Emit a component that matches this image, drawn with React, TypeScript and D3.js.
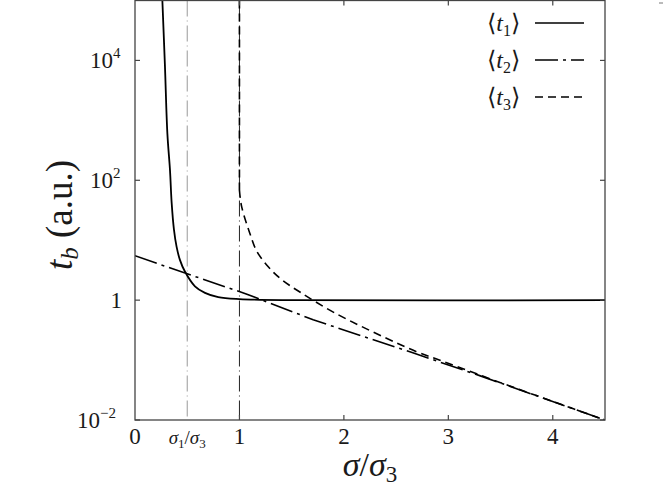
import React from 'react'
import * as d3 from 'd3'

// (x = sigma / sigma3, y = t_b in a.u.)
const t1X = [0.262, 0.287, 0.31, 0.335, 0.351, 0.373, 0.398, 0.43, 0.478, 0.574, 0.67, 0.797, 1.0, 1.5, 4.5]
const t1Y = [1e5, 7800, 600, 148, 42, 15, 7.8, 4.7, 3.0, 1.7, 1.32, 1.12, 1.04, 1.0, 1.0]

const t2X = [0, 0.5, 1.065, 1.706, 2.66, 3.3, 4.5]
const t2Y = [5.5, 2.75, 1.27, 0.47, 0.132, 0.055, 0.01]

// t3 jumps to infinity at sigma = sigma3
const t3VertX = [1.0, 1.0]
const t3VertY = [1e5, 69]
const t3X = [1.0, 1.02, 1.1, 1.165, 1.276, 1.404, 1.595, 1.914, 2.376, 2.695, 2.95, 3.5, 4.0, 4.5]
const t3Y = [69, 37, 13, 6.6, 3.6, 2.2, 1.31, 0.61, 0.245, 0.138, 0.095, 0.042, 0.0204, 0.01]

const xTicks = [1, 2, 3, 4]
const xTickLabels = ['0', '1', '2', '3', '4']
const xTickLabelPos = [0, 1, 2, 3, 4]
const yTicks = [1e4, 1e2, 1, 1e-2]
const yTickExp = ['4', '2', '', '\u22122']

const sigma1 = 0.5
const sigma3 = 1

const legendItems = [
    { sub: '1', dash: null },
    { sub: '2', dash: '23,5,3,5' },
    { sub: '3', dash: '8,5' }
]

const W = 664
const H = 486
const margin = { top: 0.5, right: 59, bottom: 66, left: 135 }
const font = 'Liberation Serif'
const ink = '#1a1a1a'

const zip = (xs: number[], ys: number[]) => xs.map((x, i) => [x, ys[i]] as [number, number])

export default function App() {
    const x = d3.scaleLinear().domain([0, 4.5]).range([margin.left, W - margin.right])
    const y = d3.scaleLog().domain([1e-2, 1e5]).range([H - margin.bottom, margin.top])

    const smooth = d3.line<[number, number]>()
        .x((d) => x(d[0]))
        .y((d) => y(d[1]))
        .curve(d3.curveCatmullRom.alpha(0.5))
    const straight = d3.line<[number, number]>()
        .x((d) => x(d[0]))
        .y((d) => y(d[1]))

    const [x0, x1] = x.range()
    const [yb, yt] = y.range()
    const tick = 5

    return (
        <svg width={W} height={H} fontFamily={font}
            style={{ position: 'absolute', left: 0, top: 0, background: '#fff' }}>
            <defs>
                <clipPath id="plot">
                    <rect x={x0} y={yt} width={x1 - x0} height={yb - yt} />
                </clipPath>
            </defs>

            {/* reference lines */}
            <line x1={x(sigma1)} x2={x(sigma1)} y1={yt} y2={yb} stroke="#999" strokeWidth={1}
                strokeDasharray="16,4,1,4" />
            <line x1={x(sigma3)} x2={x(sigma3)} y1={yt} y2={yb} stroke="#222" strokeWidth={1}
                strokeDasharray="16,4,1,4" />

            <g clipPath="url(#plot)" fill="none" stroke="#000">
                <path d={smooth(zip(t1X, t1Y)) || ''} strokeWidth={1.8} />
                <path d={straight(zip(t2X, t2Y)) || ''} strokeWidth={1.6} strokeDasharray="23,5,3,5" />
                <path d={straight(zip(t3VertX, t3VertY)) || ''} strokeWidth={1.6} strokeDasharray="8,5" />
                <path d={smooth(zip(t3X, t3Y)) || ''} strokeWidth={1.6} strokeDasharray="8,5" />
            </g>

            {/* frame */}
            <rect x={x0} y={yt} width={x1 - x0} height={yb - yt} fill="none" stroke="#444" strokeWidth={1.3} />

            {/* ticks */}
            <g stroke="#444" strokeWidth={1.2}>
                {xTicks.map((t) => (
                    <g key={'xt' + t}>
                        <line x1={x(t)} x2={x(t)} y1={yb} y2={yb - tick} />
                        <line x1={x(t)} x2={x(t)} y1={yt} y2={yt + tick} />
                    </g>
                ))}
                {yTicks.map((t) => (
                    <g key={'yt' + t}>
                        <line x1={x0} x2={x0 + tick} y1={y(t)} y2={y(t)} />
                        <line x1={x1} x2={x1 - tick} y1={y(t)} y2={y(t)} />
                    </g>
                ))}
            </g>

            {/* tick labels */}
            <g fill={ink} fontSize={23}>
                {xTickLabelPos.map((t, i) => (
                    <text key={'xl' + t} x={x(t)} y={yb + 24} textAnchor="middle">{xTickLabels[i]}</text>
                ))}
                <text x={x(sigma1)} y={yb + 24} textAnchor="middle" fontSize={19}>
                    <tspan fontStyle="italic">σ</tspan>
                    <tspan fontSize={13} dy={4}>1</tspan>
                    <tspan dy={-4}>/</tspan>
                    <tspan fontStyle="italic">σ</tspan>
                    <tspan fontSize={13} dy={4}>3</tspan>
                </text>
                {yTicks.map((t, i) => (
                    yTickExp[i] === ''
                        ? <text key={'yl' + t} x={x0 - 13} y={y(t) + 8} textAnchor="end">1</text>
                        : <text key={'yl' + t} x={x0 - (yTickExp[i].length > 1 ? 58 : 45)} y={y(t) + 8}
                            textAnchor="start">
                            10<tspan fontSize={15} dy={-10}>{yTickExp[i]}</tspan>
                        </text>
                ))}
            </g>

            {/* axis titles */}
            <text x={(x0 + x1) / 2} y={476} textAnchor="middle" fontSize={34} fill={ink}>
                <tspan fontStyle="italic">σ</tspan>
                <tspan>/</tspan>
                <tspan fontStyle="italic">σ</tspan>
                <tspan fontSize={23} dy={6}>3</tspan>
            </text>
            <text transform="translate(72,215) rotate(-90)" textAnchor="middle" fontSize={37} fill={ink}>
                <tspan fontStyle="italic">t</tspan>
                <tspan fontStyle="italic" fontSize={25} dy={6}>b</tspan>
                <tspan dy={-6}> (a.u.)</tspan>
            </text>

            {/* legend */}
            <g>
                {legendItems.map((it, i) => {
                    const cy = 23 + i * 37
                    return (
                        <g key={'lg' + i}>
                            <text x={520} y={cy + 8} textAnchor="end" fontSize={24} fill={ink}>
                                {'\u27e8'}<tspan fontStyle="italic">t</tspan>
                                <tspan fontSize={16} dy={5}>{it.sub}</tspan>
                                <tspan dy={-5}>{'\u27e9'}</tspan>
                            </text>
                            <line x1={535} x2={584} y1={cy} y2={cy} stroke="#000" strokeWidth={1.6}
                                strokeDasharray={it.dash || undefined} />
                        </g>
                    )
                })}
            </g>

            <line x1={659} x2={663} y1={3} y2={3} stroke="#777" strokeWidth={1} />
        </svg>
    )
}
